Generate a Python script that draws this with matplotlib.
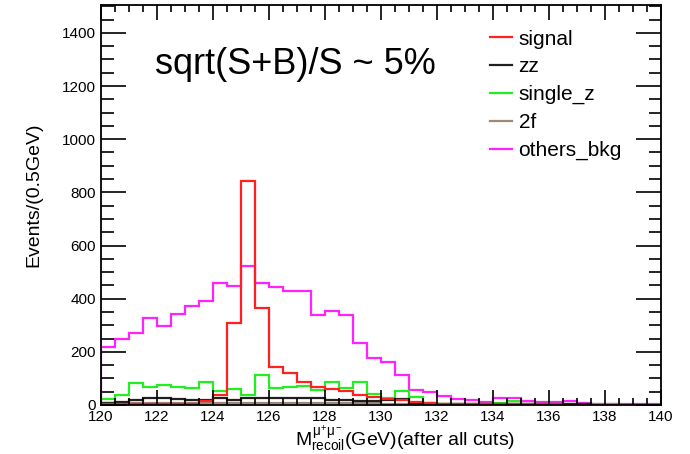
import numpy as np
import matplotlib
matplotlib.use('Agg')
from matplotlib import pyplot as plt
from matplotlib.ticker import MultipleLocator

plt.rcParams['font.family'] = ['Liberation Sans', 'DejaVu Sans']
plt.rcParams['mathtext.fontset'] = 'custom'
plt.rcParams['mathtext.rm'] = 'Liberation Sans'
plt.rcParams['mathtext.it'] = 'Liberation Sans'

# 40 bins of 0.5 GeV between 120 and 140
edges = np.arange(120, 140.01, 0.5)

signal = [3, 3, 3, 3, 3, 3, 5, 15, 38, 307, 844, 364, 144, 122, 85, 68, 59, 52, 38, 31,
          23, 19, 10, 6, 5, 4, 3, 3, 3, 2, 2, 2, 2, 1, 1, 1, 1, 1, 1, 1]
zz = [8, 12, 18, 25, 25, 22, 18, 20, 25, 20, 28, 28, 25, 25, 25, 25, 20, 18, 15, 15,
      20, 22, 8, 5, 4, 3, 3, 3, 3, 3, 2, 2, 2, 2, 2, 1, 1, 1, 1, 1]
single_z = [21, 38, 82, 67, 75, 67, 63, 88, 54, 59, 38, 113, 63, 67, 72, 56, 88, 63, 88, 41,
            25, 54, 29, 6, 5, 5, 5, 5, 8, 15, 5, 4, 3, 3, 2, 2, 2, 1, 1, 1]
twof = [6, 6, 6, 6, 6, 6, 6, 6, 6, 6, 6, 6, 6, 6, 6, 6, 6, 6, 6, 6,
        5, 5, 3, 2, 2, 2, 2, 2, 2, 2, 1, 1, 1, 1, 1, 1, 1, 1, 1, 1]
others_bkg = [219, 248, 270, 326, 297, 341, 373, 391, 458, 448, 524, 458, 445, 429, 429, 339,
              352, 337, 234, 175, 160, 112, 56, 48, 35, 23, 19, 13, 26, 26, 15, 13, 10, 15,
              6, 4, 3, 3, 2, 2]

series = [
    ('signal', signal, '#ff2020'),
    ('zz', zz, '#202020'),
    ('single_z', single_z, '#22ee22'),
    ('2f', twof, '#a08878'),
    ('others_bkg', others_bkg, '#ff22ff'),
]

fig = plt.figure(figsize=(6.9, 4.54), dpi=100)
ax = fig.add_axes([0.1464, 0.108, 0.8116, 0.881])

for name, vals, col in reversed(series):
    ax.stairs(vals, edges, baseline=0, color=col, lw=1.6, label=name)

ax.set_xlim(120, 140)
ax.set_ylim(0, 1505)

ax.xaxis.set_major_locator(MultipleLocator(2))
ax.xaxis.set_minor_locator(MultipleLocator(0.5))
ax.yaxis.set_major_locator(MultipleLocator(200))
ax.yaxis.set_minor_locator(MultipleLocator(50))
ax.tick_params(which='both', direction='in', top=True, right=True, labelsize=11, width=1.2)
ax.tick_params(axis='y', which='major', length=18)
ax.tick_params(axis='y', which='minor', length=9)
ax.tick_params(axis='x', which='major', length=11)
ax.tick_params(axis='x', which='minor', length=5)
for s in ax.spines.values():
    s.set_linewidth(1.3)

ax.set_ylabel('Events/(0.5GeV)', fontsize=14)
ax.yaxis.set_label_coords(-0.105, 0.525)
ax.set_xlabel(r'$M^{\mu^{+}\mu^{-}}_{\mathrm{recoil}}$(GeV)(after all cuts)', fontsize=14)
ax.xaxis.set_label_coords(0.543, -0.045)

ax.text(0.096, 0.85, 'sqrt(S+B)/S ~ 5%', transform=ax.transAxes, fontsize=26, va='center')

h, l = ax.get_legend_handles_labels()
leg = ax.legend(h[::-1], l[::-1], loc='upper left', bbox_to_anchor=(0.662, 0.985), frameon=False,
                fontsize=15, handlelength=1.05, handletextpad=0.3, labelspacing=0.42)

fig.savefig('out.png', dpi=100)
plt.close()
